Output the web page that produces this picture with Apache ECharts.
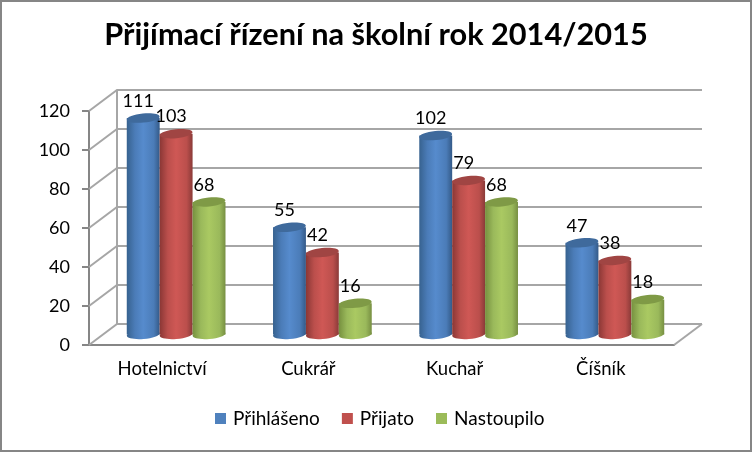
<!DOCTYPE html>
<html>
<head>
<meta charset="utf-8">
<script src="https://cdn.jsdelivr.net/npm/echarts@6/dist/echarts.min.js"></script>
<style>
html, body { margin: 0; padding: 0; background: #fff; }
#main { width: 752px; height: 452px; }
</style>
</head>
<body>
<div id="main"></div>
<script>
var categories = ['Hotelnictví', 'Cukrář', 'Kuchař', 'Číšník']
var prihlaseno = [111, 55, 102, 47]
var prijato = [103, 42, 79, 38]
var nastoupilo = [68, 16, 68, 18]
var yTicks = [0, 20, 40, 60, 80, 100, 120]

var fontName = 'Lato'
var gridColor = '#a6a6a6'
var axisColor = '#868686'
// pseudo 3D: back wall is shifted from the front plane by this much
var depthX = 28
var depthY = 21

function cylinderSeries(name, values, index, colors) {
  return {
    name: name,
    type: 'custom',
    z: 3 + index,
    data: values.map(function (v, i) { return [i, v] }),
    itemStyle: { color: colors.legend },
    encode: { x: 0, y: 1 },
    renderItem: function (params, api) {
      var top = api.coord([api.value(0), api.value(1)])
      var base = api.coord([api.value(0), 0])
      var w = api.size([1, 0])[0] * 0.225
      var cx = top[0] + depthX / 2 + (index - 1) * w
      var topY = top[1] - depthY / 2
      var baseY = base[1] - depthY / 2
      var fill = new echarts.graphic.LinearGradient(0, 0, 1, 0, [
        { offset: 0, color: colors.edgeL },
        { offset: 0.25, color: colors.mid },
        { offset: 0.5, color: colors.light },
        { offset: 0.82, color: colors.mid },
        { offset: 1, color: colors.edgeR }
      ])
      return {
        type: 'group',
        children: [
          {
            type: 'rect',
            shape: { x: cx - w / 2, y: topY, width: w, height: baseY - topY },
            style: { fill: fill }
          },
          {
            type: 'ellipse',
            originX: cx,
            originY: baseY,
            rotation: 0.08,
            shape: { cx: cx, cy: baseY, rx: w / 2, ry: 4.5 },
            style: { fill: fill }
          },
          {
            type: 'ellipse',
            originX: cx,
            originY: topY,
            rotation: 0.1,
            shape: { cx: cx, cy: topY, rx: w / 2, ry: 4.5 },
            style: { fill: colors.top }
          },
          {
            type: 'text',
            z2: 10,
            style: {
              text: String(api.value(1)),
              x: cx - 5,
              y: topY - 17,
              align: 'center',
              verticalAlign: 'middle',
              font: '18px ' + fontName,
              fill: '#000'
            }
          }
        ]
      }
    }
  }
}

var wallSeries = {
  type: 'custom',
  z: 1,
  silent: true,
  data: yTicks.map(function (v) { return [0, v] }),
  encode: { x: 0, y: 1 },
  renderItem: function (params, api) {
    var left = params.coordSys.x
    var right = left + params.coordSys.width
    var y = api.coord([0, api.value(1)])[1]
    var lineStyle = { fill: 'none', stroke: gridColor, lineWidth: 2 }
    var children = [{
      type: 'polyline',
      shape: { points: [[left, y], [left + depthX, y - depthY], [right + depthX, y - depthY]] },
      style: lineStyle
    }]
    if (api.value(1) === 0) {
      var topY = api.coord([0, yTicks[yTicks.length - 1]])[1]
      children.push({
        type: 'line',
        shape: { x1: left + depthX, y1: y - depthY, x2: left + depthX, y2: topY - depthY },
        style: lineStyle
      })
      children.push({
        type: 'line',
        shape: { x1: right, y1: y, x2: right + depthX, y2: y - depthY },
        style: lineStyle
      })
    }
    return { type: 'group', children: children }
  }
}

var myChart = echarts.init(document.getElementById('main'))
myChart.setOption({
  animation: false,
  backgroundColor: '#fff',
  title: {
    text: 'Přijímací řízení na školní rok 2014/2015',
    left: 'center',
    top: 15,
    textStyle: { fontFamily: fontName, fontSize: 30.7, fontWeight: 'bold', color: '#000' }
  },
  legend: {
    left: 215,
    top: 409,
    padding: 0,
    icon: 'rect',
    itemWidth: 11,
    itemHeight: 11,
    itemGap: 22,
    data: ['Přihlášeno', 'Přijato', 'Nastoupilo'],
    textStyle: { fontFamily: fontName, fontSize: 19, color: '#000', padding: [0, 0, 0, 2] }
  },
  graphic: [{
    type: 'rect',
    silent: true,
    shape: { x: 1, y: 1, width: 750, height: 450 },
    style: { fill: 'none', stroke: axisColor, lineWidth: 2 }
  }],
  grid: { left: 89, right: 78, top: 111, bottom: 107 },
  xAxis: {
    type: 'category',
    data: categories,
    axisLine: { lineStyle: { color: axisColor, width: 2 } },
    axisTick: { length: 6, lineStyle: { color: axisColor, width: 2 } },
    axisLabel: { margin: 15, fontFamily: fontName, fontSize: 18.5, color: '#000' }
  },
  yAxis: {
    type: 'value',
    min: 0,
    max: 120,
    interval: 20,
    splitLine: { show: false },
    axisLine: { show: true, lineStyle: { color: axisColor, width: 2 } },
    axisTick: { show: true, length: 7, lineStyle: { color: axisColor, width: 2 } },
    axisLabel: { margin: 19, fontFamily: fontName, fontSize: 18, color: '#000' }
  },
  series: [
    wallSeries,
    cylinderSeries('Přihlášeno', prihlaseno, 0, {
      legend: '#4f81bd', edgeL: '#37628f', mid: '#4b7cb8', light: '#568bcd', edgeR: '#345a88', top: '#3f6a9c'
    }),
    cylinderSeries('Přijato', prijato, 1, {
      legend: '#c0504d', edgeL: '#8a3735', mid: '#bb4f4c', light: '#cf5855', edgeR: '#8a3a38', top: '#a04543'
    }),
    cylinderSeries('Nastoupilo', nastoupilo, 2, {
      legend: '#9bbb59', edgeL: '#76903f', mid: '#9ab95b', light: '#aac962', edgeR: '#778f42', top: '#7f9a46'
    })
  ]
})
</script>
</body>
</html>
